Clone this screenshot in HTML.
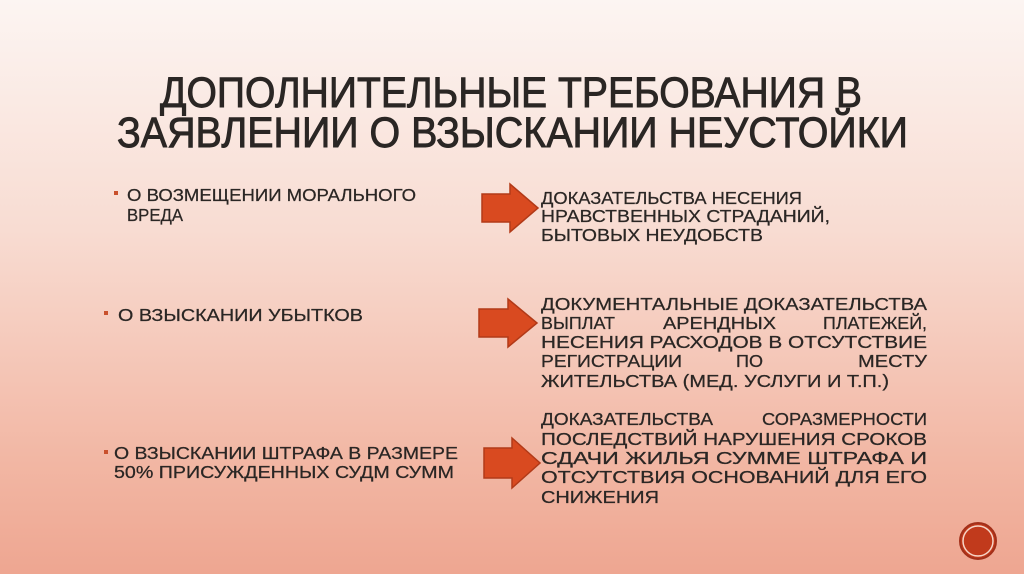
<!DOCTYPE html>
<html><head><meta charset="utf-8"><style>
html,body{margin:0;padding:0;width:1024px;height:574px;overflow:hidden}
body{background:linear-gradient(180deg,#fcf5f2 0%,#f8dcd2 40%,#f2b7a4 80%,#eea691 100%)}
svg text{font-family:"Liberation Sans",sans-serif;fill:#2a2624}
</style></head><body>
<svg width="1024" height="574" xmlns="http://www.w3.org/2000/svg">
<g font-size="43" stroke="#2a2624" stroke-width="0.9">
<text x="160" y="107" textLength="702" lengthAdjust="spacingAndGlyphs">ДОПОЛНИТЕЛЬНЫЕ ТРЕБОВАНИЯ В</text>
<text x="117" y="147" textLength="791" lengthAdjust="spacingAndGlyphs">ЗАЯВЛЕНИИ О ВЗЫСКАНИИ НЕУСТОЙКИ</text>
</g>
<g fill="#c9502c">
<rect x="114" y="191" width="4" height="4"/>
<rect x="104" y="311" width="4" height="4"/>
<rect x="104" y="450" width="4" height="4"/>
</g>
<g font-size="17.5" stroke="#2a2624" stroke-width="0.25">
<text x="127" y="201" textLength="289" lengthAdjust="spacingAndGlyphs">О ВОЗМЕЩЕНИИ МОРАЛЬНОГО</text>
<text x="127" y="221" textLength="56" lengthAdjust="spacingAndGlyphs">ВРЕДА</text>
<text x="118" y="321" textLength="245" lengthAdjust="spacingAndGlyphs">О ВЗЫСКАНИИ УБЫТКОВ</text>
<text x="114" y="459" textLength="344" lengthAdjust="spacingAndGlyphs">О ВЗЫСКАНИИ ШТРАФА В РАЗМЕРЕ</text>
<text x="114" y="478" textLength="340" lengthAdjust="spacingAndGlyphs">50% ПРИСУЖДЕННЫХ СУДМ СУММ</text>

<text x="541" y="204" textLength="261" lengthAdjust="spacingAndGlyphs">ДОКАЗАТЕЛЬСТВА НЕСЕНИЯ</text>
<text x="541" y="222" textLength="289" lengthAdjust="spacingAndGlyphs">НРАВСТВЕННЫХ СТРАДАНИЙ,</text>
<text x="541" y="241" textLength="222" lengthAdjust="spacingAndGlyphs">БЫТОВЫХ НЕУДОБСТВ</text>

<text x="541" y="310" textLength="386" lengthAdjust="spacingAndGlyphs">ДОКУМЕНТАЛЬНЫЕ ДОКАЗАТЕЛЬСТВА</text>
<text x="541" y="329" textLength="74" lengthAdjust="spacingAndGlyphs">ВЫПЛАТ</text>
<text x="663" y="329" textLength="113" lengthAdjust="spacingAndGlyphs">АРЕНДНЫХ</text>
<text x="823" y="329" textLength="104" lengthAdjust="spacingAndGlyphs">ПЛАТЕЖЕЙ,</text>
<text x="541" y="348" textLength="386" lengthAdjust="spacingAndGlyphs">НЕСЕНИЯ РАСХОДОВ В ОТСУТСТВИЕ</text>
<text x="541" y="367" textLength="141" lengthAdjust="spacingAndGlyphs">РЕГИСТРАЦИИ</text>
<text x="736" y="367" textLength="27" lengthAdjust="spacingAndGlyphs">ПО</text>
<text x="858" y="367" textLength="69" lengthAdjust="spacingAndGlyphs">МЕСТУ</text>
<text x="541" y="387" textLength="348" lengthAdjust="spacingAndGlyphs">ЖИТЕЛЬСТВА (МЕД. УСЛУГИ И Т.П.)</text>

<text x="541" y="425" textLength="172" lengthAdjust="spacingAndGlyphs">ДОКАЗАТЕЛЬСТВА</text>
<text x="762" y="425" textLength="165" lengthAdjust="spacingAndGlyphs">СОРАЗМЕРНОСТИ</text>
<text x="541" y="445" textLength="386" lengthAdjust="spacingAndGlyphs">ПОСЛЕДСТВИЙ НАРУШЕНИЯ СРОКОВ</text>
<text x="541" y="464" textLength="386" lengthAdjust="spacingAndGlyphs">СДАЧИ ЖИЛЬЯ СУММЕ ШТРАФА И</text>
<text x="541" y="483" textLength="386" lengthAdjust="spacingAndGlyphs">ОТСУТСТВИЯ ОСНОВАНИЙ ДЛЯ ЕГО</text>
<text x="541" y="503" textLength="118" lengthAdjust="spacingAndGlyphs">СНИЖЕНИЯ</text>
</g>
<g fill="#d94a20" stroke="#b23a18" stroke-width="1.5">
<polygon points="482,194 510,194 510,184 538,208 510,232 510,222 482,222"/>
<polygon points="479,309 508,309 508,299 537,323 508,347 508,337 479,337"/>
<polygon points="484,448 512,448 512,438 540,463 512,488 512,478 484,478"/>
</g>
<circle cx="978" cy="541" r="18" fill="#c13a1c" stroke="#a3301a" stroke-width="2"/>
<circle cx="978" cy="541" r="15" fill="none" stroke="#f6d6c8" stroke-width="1.5"/>
</svg>
</body></html>
